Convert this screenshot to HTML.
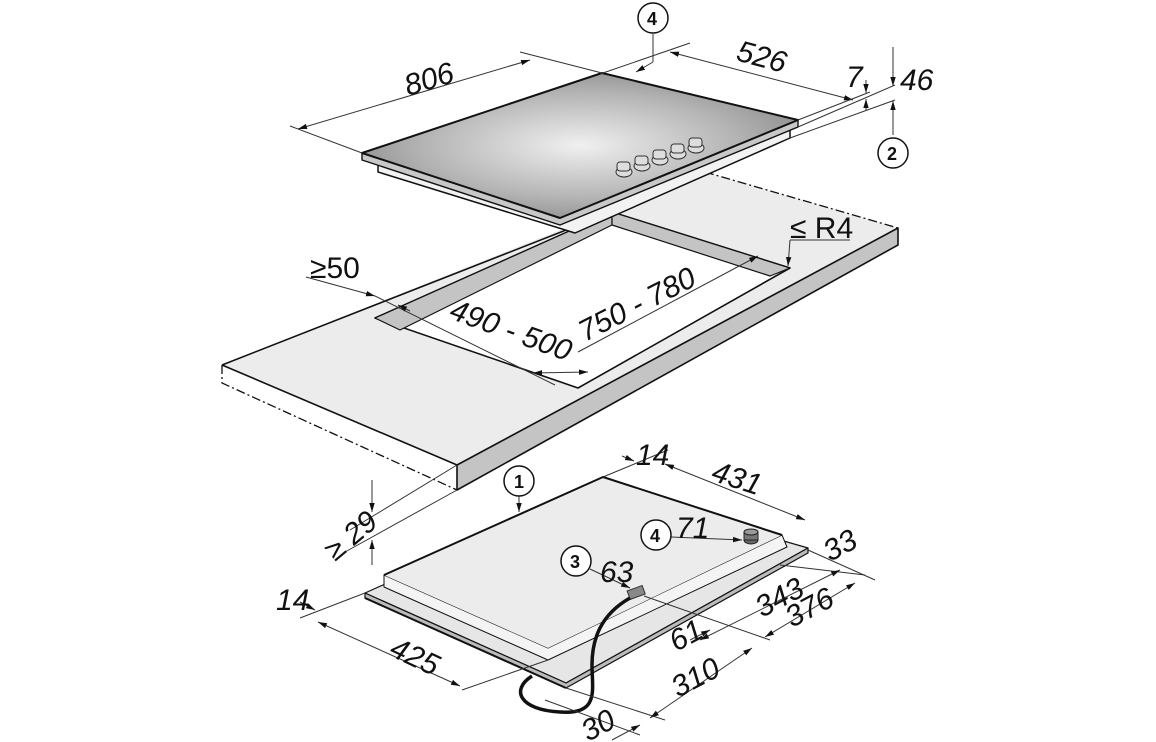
<!DOCTYPE html>
<html><head><meta charset="utf-8"><style>
html,body{margin:0;padding:0;background:#fff;width:1156px;height:742px;overflow:hidden}
svg text{font-family:"Liberation Sans Narrow","Liberation Sans",sans-serif;font-style:italic;font-size:30px;fill:#111}
.c{font-family:"Liberation Sans",sans-serif !important;font-style:normal !important;font-weight:bold;font-size:18px !important}
</style></head><body>
<svg width="1156" height="742" viewBox="0 0 1156 742" xmlns="http://www.w3.org/2000/svg">
<defs>
<radialGradient id="g" cx="0.5" cy="0.5" r="0.6">
<stop offset="0" stop-color="#f0f0f0"/><stop offset="0.6" stop-color="#b4b4b4"/><stop offset="1" stop-color="#858585"/>
</radialGradient>
<marker id="a" viewBox="0 0 10 10" refX="10" refY="5" markerWidth="9" markerHeight="9" orient="auto-start-reverse"><path d="M0,2 L10,5 L0,8 z" fill="#111"/></marker>
</defs>

<!-- COUNTERTOP -->
<g stroke="#111" stroke-width="1.6" stroke-linejoin="round">
<polygon points="222,365 705,172 898,228 457,465" fill="#ececec" stroke="none"/>
<polygon points="457,465 898,228 898,245 457,490" fill="#c4c4c4"/>
<line x1="222" y1="365" x2="612" y2="212"/>
<line x1="222" y1="365" x2="457" y2="465"/>
<!-- cutout -->
<polygon points="375,318 612,212 790,268 578,388" fill="#fff"/>
<polygon points="375,318 612,212 612,225 400,330" fill="#c4c4c4" stroke-width="1.2"/>
<polygon points="612,212 790,268 770,276 612,225" fill="#c4c4c4" stroke-width="1.2"/>
</g>
<g stroke="#111" stroke-width="1.3" fill="none" stroke-dasharray="9,3,2,3">
<polyline points="705,172 898,228"/>
<polyline points="222,365 222,383 457,490"/>
</g>

<!-- HOB -->
<g stroke="#111" stroke-linejoin="round">
<polygon points="378,160 378,172 575,233 790,138 790,125" fill="#f2f2f2" stroke-width="1.5"/>
<polygon points="362,153 362,160 560,225 798,127 798,120" fill="#c8c8c8" stroke-width="1.4"/>
<polygon points="362,153 602,73 798,120 560,218" fill="url(#g)" stroke-width="2"/>
</g>
<g fill="#ddd" stroke="#333" stroke-width="1">
<ellipse cx="624" cy="172" rx="8" ry="5"/><rect x="617" y="162" width="13" height="9" rx="3"/>
<ellipse cx="642" cy="166" rx="8" ry="5"/><rect x="635" y="156" width="13" height="9" rx="3"/>
<ellipse cx="660" cy="160" rx="8" ry="5"/><rect x="653" y="150" width="13" height="9" rx="3"/>
<ellipse cx="678" cy="154" rx="8" ry="5"/><rect x="671" y="144" width="13" height="9" rx="3"/>
<ellipse cx="696" cy="148" rx="8" ry="5"/><rect x="689" y="138" width="13" height="9" rx="3"/>
</g>

<!-- BOTTOM UNIT -->
<g stroke="#111" stroke-linejoin="round">
<polygon points="365,593 600,488 808,548 566,683" fill="#e6e6e6" stroke-width="1.2"/>
<polygon points="365,593 365,598 566,688 808,553 808,548 566,683" fill="#bbb" stroke-width="1.2"/>
<polygon points="384,575 384,587 548,660 787,547 782,535 548,648" fill="#f4f4f4" stroke-width="1"/>
<polygon points="384,575 603,477 782,535 548,648" fill="#ececec" stroke="none"/>
<polyline points="384,575 603,477 782,535" fill="none" stroke-width="2"/>
<line x1="365" y1="598" x2="566" y2="688" stroke-width="2"/>
</g>
<rect x="628" y="588" width="16" height="9" fill="#888" stroke="#333" transform="rotate(-20 636 592)"/>
<path d="M630,598 C600,615 592,640 592,665 C592,690 600,715 560,712 C520,710 510,690 532,676" fill="none" stroke="#111" stroke-width="3.5"/>
<ellipse cx="751" cy="540" rx="7" ry="4" fill="#666" stroke="#222"/><rect x="744" y="532" width="14" height="8" fill="#777" stroke="#222"/><ellipse cx="751" cy="532" rx="7" ry="3" fill="#999" stroke="#222"/>

<!-- DIMENSION LINES -->
<g stroke="#333" stroke-width="1" fill="none">
<line x1="362" y1="153" x2="290" y2="126"/><line x1="602" y1="73" x2="520" y2="52"/>
<line x1="298" y1="129" x2="530" y2="60" marker-start="url(#a)" marker-end="url(#a)"/>
<line x1="600" y1="74" x2="690" y2="43"/>
<line x1="670" y1="52" x2="853" y2="100" marker-start="url(#a)" marker-end="url(#a)"/>
<line x1="798" y1="120" x2="870" y2="92"/><line x1="798" y1="127" x2="895" y2="85"/><line x1="790" y1="138" x2="895" y2="100"/>
<line x1="866" y1="80" x2="866" y2="93" marker-end="url(#a)"/><line x1="866" y1="110" x2="866" y2="99" marker-end="url(#a)"/>
<line x1="893" y1="47" x2="893" y2="86" marker-end="url(#a)"/><line x1="893" y1="135" x2="893" y2="101" marker-end="url(#a)"/>
<line x1="653" y1="34" x2="653" y2="62"/><line x1="653" y1="62" x2="636" y2="72" marker-end="url(#a)"/>
<line x1="790" y1="240" x2="850" y2="240"/><line x1="790" y1="240" x2="788" y2="266" marker-end="url(#a)"/>
<line x1="306" y1="277" x2="375" y2="296" marker-end="url(#a)"/>
<line x1="375" y1="296" x2="555" y2="385"/>
<line x1="398" y1="305" x2="410" y2="311" marker-start="url(#a)"/>
<line x1="533" y1="373" x2="588" y2="372" marker-start="url(#a)" marker-end="url(#a)"/>
<line x1="578" y1="352" x2="758" y2="256" marker-end="url(#a)"/>
<line x1="457" y1="465" x2="350" y2="530"/><line x1="457" y1="490" x2="345" y2="552"/>
<line x1="372" y1="480" x2="372" y2="512" marker-end="url(#a)"/><line x1="372" y1="565" x2="372" y2="540" marker-end="url(#a)"/>
<line x1="603" y1="477" x2="668" y2="450"/>
<line x1="622" y1="456" x2="634" y2="461" marker-end="url(#a)"/>
<line x1="665" y1="464" x2="805" y2="520" marker-start="url(#a)" marker-end="url(#a)"/>
<line x1="519" y1="496" x2="519" y2="512" marker-end="url(#a)"/>
<line x1="671" y1="537" x2="742" y2="540" marker-end="url(#a)"/>
<line x1="590" y1="569" x2="630" y2="588" marker-end="url(#a)"/>
<line x1="644" y1="596" x2="770" y2="640"/>
<line x1="808" y1="550" x2="875" y2="580"/><line x1="780" y1="565" x2="865" y2="575"/>
<line x1="700" y1="640" x2="840" y2="570" marker-start="url(#a)" marker-end="url(#a)"/>
<line x1="765" y1="637" x2="855" y2="583" marker-start="url(#a)" marker-end="url(#a)"/>
<line x1="690" y1="640" x2="710" y2="630" marker-end="url(#a)"/>
<line x1="650" y1="718" x2="752" y2="648" marker-start="url(#a)" marker-end="url(#a)"/>
<line x1="566" y1="688" x2="665" y2="720"/><line x1="545" y1="700" x2="640" y2="735"/>
<line x1="612" y1="740" x2="640" y2="725" marker-end="url(#a)"/>
<line x1="365" y1="593" x2="300" y2="618"/>
<line x1="318" y1="622" x2="460" y2="686" marker-start="url(#a)" marker-end="url(#a)"/>
<line x1="548" y1="660" x2="462" y2="690"/>
<line x1="300" y1="602" x2="315" y2="610" marker-end="url(#a)"/>
</g>

<!-- CIRCLED LABELS -->
<g fill="#fff" stroke="#111" stroke-width="1.5">
<circle cx="653" cy="18" r="15"/><circle cx="893" cy="153" r="15"/>
<circle cx="519" cy="481" r="15"/><circle cx="656" cy="535" r="15"/><circle cx="576" cy="561" r="15"/>
</g>
<text class="c" x="647" y="25">4</text><text class="c" x="887" y="160">2</text>
<text class="c" x="514" y="488">1</text><text class="c" x="650" y="542">4</text><text class="c" x="570" y="568">3</text>

<!-- TEXT -->
<text transform="translate(408,96) rotate(-17)">806</text>
<text transform="translate(735,60) rotate(15)">526</text>
<text x="846" y="87">7</text>
<text x="900" y="90">46</text>
<text x="790" y="238" style="font-style:normal">≤ R4</text>
<text x="310" y="278" style="font-style:normal">≥50</text>
<text transform="translate(448,318) rotate(20)">490 - 500</text>
<text transform="translate(585,342) rotate(-27)">750 - 780</text>
<text x="636" y="465">14</text>
<text transform="translate(710,480) rotate(18)">431</text>
<text transform="translate(335,562) rotate(-40)">≥ 29</text>
<text x="676" y="538">71</text>
<text x="600" y="582">63</text>
<text transform="translate(830,562) rotate(-28)">33</text>
<text transform="translate(762,618) rotate(-28)">343</text>
<text transform="translate(792,628) rotate(-28)">376</text>
<text transform="translate(676,652) rotate(-28)">61</text>
<text transform="translate(678,698) rotate(-28)">310</text>
<text transform="translate(388,655) rotate(25)">425</text>
<text x="276" y="610">14</text>
<text transform="translate(588,742) rotate(-28)">30</text>
</svg>
</body></html>
